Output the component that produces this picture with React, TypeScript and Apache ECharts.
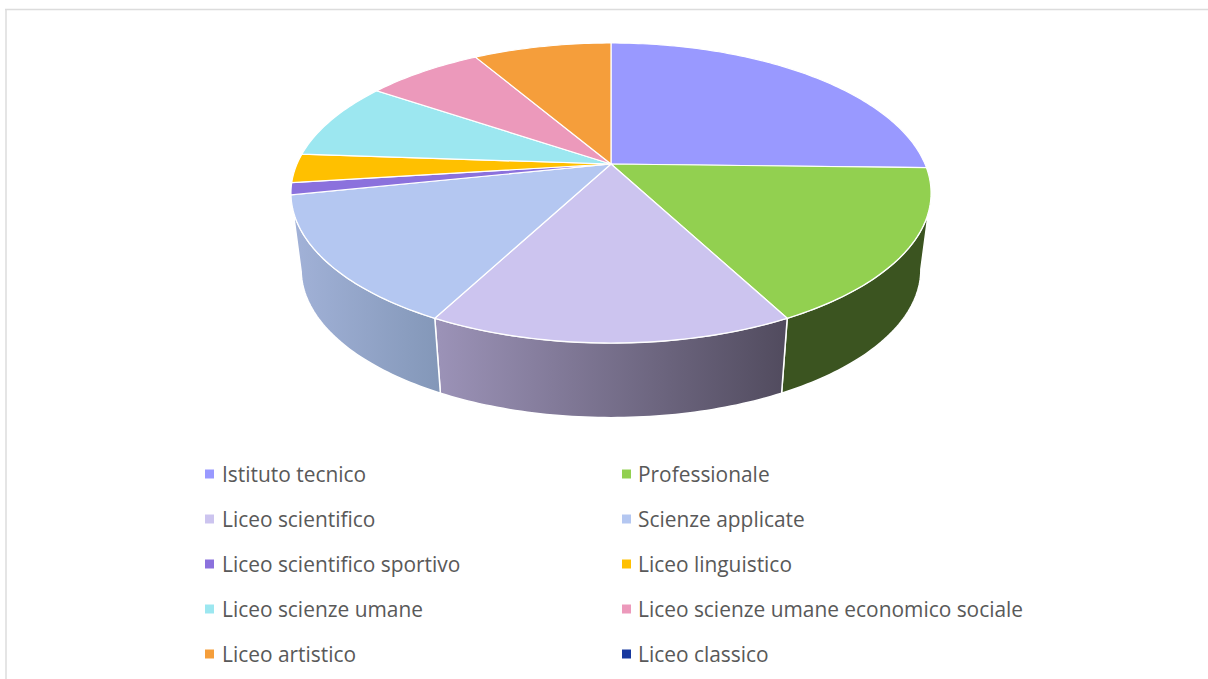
import React, { useEffect, useRef } from "react";
import * as echarts from "echarts";

const categories = [
  "Istituto tecnico",
  "Professionale",
  "Liceo scientifico",
  "Scienze applicate",
  "Liceo scientifico sportivo",
  "Liceo linguistico",
  "Liceo scienze umane",
  "Liceo scienze umane economico sociale",
  "Liceo artistico",
  "Liceo classico",
];
const shares = [25.4, 16.9, 15.4, 14.0, 1.3, 3.1, 8.4, 7.1, 8.4, 0];
const topColors = ["#9999FF", "#92D050", "#CCC4EF", "#B4C7F1", "#8B71DD", "#FFC000", "#9CE7F0", "#EC99BB", "#F59E3B", "#17389F"];
const wallColors: ([string, string] | null)[] = [
  null,
  ["#3B5420", "#3B5420"],
  ["#9C93B8", "#514B5E"],
  ["#A2B2D8", "#8397B8"],
  ["#8B71DD", "#8B71DD"],
  null,
  null,
  null,
  null,
  null,
];
const legendLeft = [categories[0], categories[2], categories[4], categories[6], categories[8]];
const legendRight = [categories[1], categories[3], categories[5], categories[7], categories[9]];

// Perspective disc: angle is measured clockwise from the far point of the disc.
const CX = 611;
const K = -0.1933;
const TOP = { y0: 164, a: 144.4, b: 314 };
const LOW = { y0: 241, a: 142.5, b: 304 };
const WALL_FROM = 101;
const WALL_TO = 258;

function rim(deg: number, r: { y0: number; a: number; b: number }): number[] {
  const t = (deg * Math.PI) / 180;
  const u = Math.sin(t);
  const v = -Math.cos(t);
  const w = 1 + K * v;
  return [CX + (r.b * u) / w, r.y0 + (r.a * v) / w];
}

function arc(from: number, to: number, r: { y0: number; a: number; b: number }): number[][] {
  const n = Math.max(2, Math.ceil(Math.abs(to - from)));
  const pts: number[][] = [];
  for (let i = 0; i <= n; i++) pts.push(rim(from + ((to - from) * i) / n, r));
  return pts;
}

const total = shares.reduce((s, v) => s + v, 0);

export default function App() {
  const ref = useRef<HTMLDivElement>(null);
  useEffect(() => {
    const chart = echarts.init(ref.current!, undefined, { renderer: "svg" });
    let acc = 0;
    const series = categories.map((name, i) => {
      const start = (acc / total) * 360;
      acc += shares[i];
      const end = (acc / total) * 360;
      return {
        type: "custom",
        name,
        coordinateSystem: "none",
        silent: true,
        itemStyle: { color: topColors[i] },
        data: [[shares[i]]],
        renderItem: () => {
          const children: any[] = [];
          if (end - start <= 0) return { type: "group", children };
          const from = Math.max(start, WALL_FROM);
          const to = Math.min(end, WALL_TO);
          const wall = wallColors[i];
          if (wall && to - from > 0.5) {
            children.push({
              type: "polygon",
              shape: { points: [...arc(from, to, TOP), ...arc(to, from, LOW)] },
              style: {
                fill: {
                  type: "linear",
                  x: 0,
                  y: 0,
                  x2: 1,
                  y2: 0,
                  colorStops: [
                    { offset: 0, color: wall[0] },
                    { offset: 1, color: wall[1] },
                  ],
                },
                stroke: "#FFFFFF",
                lineWidth: 1.5,
              },
            });
          }
          children.push({
            type: "polygon",
            z2: 10,
            shape: { points: [[CX, TOP.y0], ...arc(start, end, TOP)] },
            style: { fill: topColors[i], stroke: "#FFFFFF", lineWidth: 1.2 },
          });
          return { type: "group", children };
        },
      };
    });
    const legendBase = {
      orient: "vertical",
      top: 462,
      itemWidth: 9,
      itemHeight: 9,
      itemGap: 21,
      icon: "rect",
      selectedMode: false,
      padding: 0,
    };
    const text = (pad: number) => ({
      fontFamily: "'Open Sans'",
      fontSize: 20.9,
      color: "#595959",
      lineHeight: 24,
      padding: [0, 0, 0, pad],
    });
    chart.setOption({
      animation: false,
      backgroundColor: "#FFFFFF",
      legend: [
        { ...legendBase, left: 205, data: legendLeft, textStyle: text(3) },
        { ...legendBase, left: 622, data: legendRight, textStyle: text(2) },
      ],
      series,
      graphic: [
        { type: "line", silent: true, shape: { x1: 5, y1: 9.5, x2: 1208, y2: 9.5 }, style: { stroke: "#DCDCDC", lineWidth: 1.5 } },
        { type: "line", silent: true, shape: { x1: 6, y1: 9, x2: 6, y2: 679 }, style: { stroke: "#DCDCDC", lineWidth: 1.5 } },
      ],
    });
    return () => chart.dispose();
  }, []);
  return <div ref={ref} style={{ position: "fixed", left: 0, top: 0, width: 1208, height: 679 }} />;
}
